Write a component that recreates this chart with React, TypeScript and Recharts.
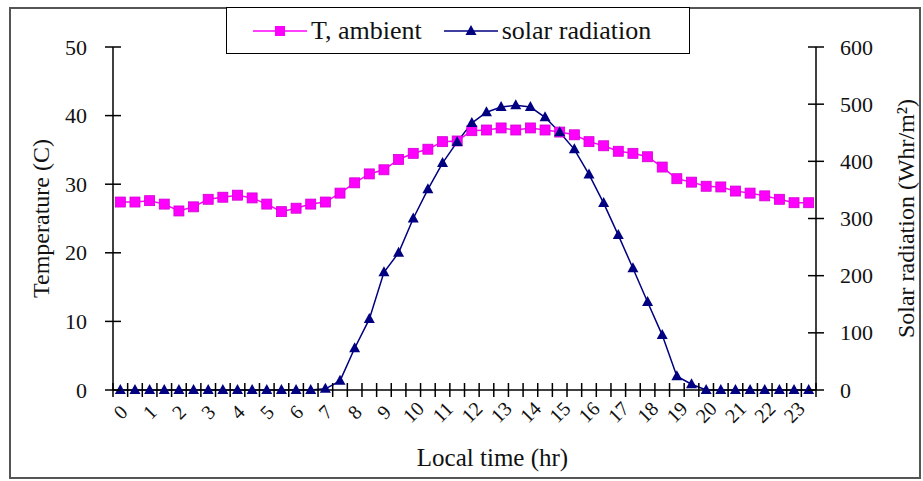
import { ComposedChart, Line, XAxis, YAxis } from 'recharts';

const TIMES = [
  0, 0.5, 1, 1.5, 2, 2.5, 3, 3.5, 4, 4.5, 5, 5.5, 6, 6.5, 7, 7.5, 8, 8.5, 9, 9.5, 10, 10.5, 11, 11.5,
  12, 12.5, 13, 13.5, 14, 14.5, 15, 15.5, 16, 16.5, 17, 17.5, 18, 18.5, 19, 19.5, 20, 20.5, 21, 21.5, 22, 22.5, 23, 23.5,
];

// T, ambient (C)
const T_AMBIENT = [
  27.4, 27.4, 27.6, 27.1, 26.1, 26.7, 27.8, 28.1, 28.4, 28.0,
  27.1, 26.0, 26.5, 27.1, 27.4, 28.7, 30.2, 31.5, 32.1, 33.6,
  34.5, 35.1, 36.2, 36.3, 37.8, 37.9, 38.2, 37.9, 38.2, 37.9,
  37.6, 37.2, 36.2, 35.6, 34.8, 34.5, 34.0, 32.5, 30.8, 30.3,
  29.7, 29.6, 29.0, 28.7, 28.3, 27.8, 27.3, 27.3,
];

// solar radiation (Whr/m2)
const SOLAR = [
  0, 0, 0, 0, 0, 0, 0, 0, 0, 0, 0, 0, 0, 0,
  2, 16, 73, 124, 206, 240, 300, 351, 397, 434, 467, 486, 495, 498, 495, 477,
  451, 421, 377, 327, 271, 213, 154, 96, 24, 10,
  0, 0, 0, 0, 0, 0, 0, 0,
];

const HOUR_LABELS = [
  '0', '1', '2', '3', '4', '5', '6', '7', '8', '9', '10', '11',
  '12', '13', '14', '15', '16', '17', '18', '19', '20', '21', '22', '23',
];

const TEMP_TICKS = [0, 10, 20, 30, 40, 50];
const SOLAR_TICKS = [0, 100, 200, 300, 400, 500, 600];

const data = TIMES.map((t, i) => ({ t, temp: T_AMBIENT[i], solar: SOLAR[i] }));
// tick marks sit between the half-hour points
const BOUNDARIES = [...TIMES.map(t => t - 0.25), 23.75];

const FONT = "'Liberation Serif', Tinos, 'Noto Serif', 'DejaVu Serif', serif";
const MAGENTA = '#FF00FF';
const NAVY = '#000080';
const HALF_STEP = 703 / 48 / 2;

const XTick = (props: any) => {
  const { x, y, payload } = props;
  const h = payload.value + 0.25;
  const idx = Number.isInteger(h) ? h : -1;
  return (
    <g>
      <line x1={x} x2={x} y1={y - 7} y2={y + 7} stroke="#000" strokeWidth={1.5} />
      {idx >= 0 && idx < HOUR_LABELS.length && (
        <text
          x={x + HALF_STEP}
          y={y + 22}
          fontSize={20}
          fontFamily={FONT}
          fill="#111"
          textAnchor="middle"
          dominantBaseline="central"
          transform={`rotate(-45, ${x + HALF_STEP}, ${y + 22})`}
        >
          {HOUR_LABELS[idx]}
        </text>
      )}
    </g>
  );
};

const LeftTick = (props: any) => {
  const { x, y, payload } = props;
  return (
    <g>
      <line x1={x - 8} x2={x + 8} y1={y} y2={y} stroke="#000" strokeWidth={1.5} />
      <text x={x - 26} y={y} fontSize={22} fontFamily={FONT} fill="#111" textAnchor="end" dominantBaseline="central">
        {payload.value}
      </text>
    </g>
  );
};

const RightTick = (props: any) => {
  const { x, y, payload } = props;
  return (
    <g>
      <line x1={x - 8} x2={x + 8} y1={y} y2={y} stroke="#000" strokeWidth={1.5} />
      <text x={x + 24} y={y} fontSize={22} fontFamily={FONT} fill="#111" textAnchor="start" dominantBaseline="central">
        {payload.value}
      </text>
    </g>
  );
};

const SquareDot = (props: any) => {
  const { cx, cy, index } = props;
  if (cx == null || cy == null) return <g key={index} />;
  return <rect key={index} x={cx - 5} y={cy - 5} width={10} height={10} fill={MAGENTA} stroke="#d000d0" strokeWidth={0.8} />;
};

const TriangleDot = (props: any) => {
  const { cx, cy, index } = props;
  if (cx == null || cy == null) return <g key={index} />;
  return <path key={index} d={`M${cx},${cy - 6} L${cx + 5.5},${cy + 4} L${cx - 5.5},${cy + 4} Z`} fill={NAVY} />;
};

function LegendBox() {
  return (
    <div
      style={{
        position: 'absolute',
        left: 226,
        top: 7,
        width: 464,
        height: 47,
        boxSizing: 'border-box',
        border: '1.5px solid #000',
        background: '#fff',
        display: 'flex',
        alignItems: 'center',
        fontFamily: FONT,
        fontSize: 26,
        color: '#111',
        paddingLeft: 26,
      }}
    >
      <svg width={54} height={16} style={{ marginRight: 4 }}>
        <line x1={0} x2={54} y1={8} y2={8} stroke={MAGENTA} strokeWidth={1.5} />
        <rect x={22} y={3} width={10} height={10} fill={MAGENTA} />
      </svg>
      <span>T, ambient</span>
      <svg width={54} height={16} style={{ marginLeft: 22, marginRight: 4 }}>
        <line x1={0} x2={54} y1={8} y2={8} stroke={NAVY} strokeWidth={1.5} />
        <path d="M27,2 L32.5,12 L21.5,12 Z" fill={NAVY} />
      </svg>
      <span>solar radiation</span>
    </div>
  );
}

export default function App() {
  return (
    <div style={{ position: 'absolute', left: 0, top: 0, width: 923, height: 481, background: '#fff' }}>
      <div
        style={{
          position: 'absolute',
          left: 9,
          top: 7,
          width: 912,
          height: 472,
          boxSizing: 'border-box',
          border: '2px solid #555',
        }}
      />
      <ComposedChart
        width={923}
        height={481}
        data={data}
        margin={{ top: 47, right: 7, bottom: 31, left: 13 }}
        style={{ position: 'absolute', left: 0, top: 0 }}
      >
        <XAxis
          dataKey="t"
          type="number"
          domain={[-0.25, 23.75]}
          ticks={BOUNDARIES}
          interval={0}
          height={60}
          tick={<XTick />}
          tickLine={false}
          tickSize={0}
          tickMargin={0}
          axisLine={{ stroke: '#000', strokeWidth: 1.5 }}
          label={{
            value: 'Local time (hr)',
            position: 'insideBottom',
            offset: 0,
            dx: 28,
            dy: 16,
            style: { fontFamily: FONT, fontSize: 25, fill: '#111' },
          }}
        />
        <YAxis
          yAxisId="left"
          domain={[0, 50]}
          ticks={TEMP_TICKS}
          width={100}
          tick={<LeftTick />}
          tickLine={false}
          tickSize={0}
          tickMargin={0}
          axisLine={{ stroke: '#000', strokeWidth: 1.5 }}
          label={{
            value: 'Temperature (C)',
            angle: -90,
            position: 'center',
            dx: -23,
            style: { fontFamily: FONT, fontSize: 24, fill: '#111', textAnchor: 'middle' },
          }}
        />
        <YAxis
          yAxisId="right"
          orientation="right"
          domain={[0, 600]}
          ticks={SOLAR_TICKS}
          width={100}
          tick={<RightTick />}
          tickLine={false}
          tickSize={0}
          tickMargin={0}
          axisLine={{ stroke: '#000', strokeWidth: 1.5 }}
          label={{
            value: 'Solar radiation (Whr/m²)',
            angle: -90,
            position: 'center',
            dx: 39,
            style: { fontFamily: FONT, fontSize: 24, fill: '#111', textAnchor: 'middle' },
          }}
        />
        <Line
          yAxisId="left"
          dataKey="temp"
          type="linear"
          stroke={MAGENTA}
          strokeWidth={1.5}
          dot={<SquareDot />}
          activeDot={false}
          isAnimationActive={false}
        />
        <Line
          yAxisId="right"
          dataKey="solar"
          type="linear"
          stroke={NAVY}
          strokeWidth={1.5}
          dot={<TriangleDot />}
          activeDot={false}
          isAnimationActive={false}
        />
      </ComposedChart>
      <LegendBox />
    </div>
  );
}
